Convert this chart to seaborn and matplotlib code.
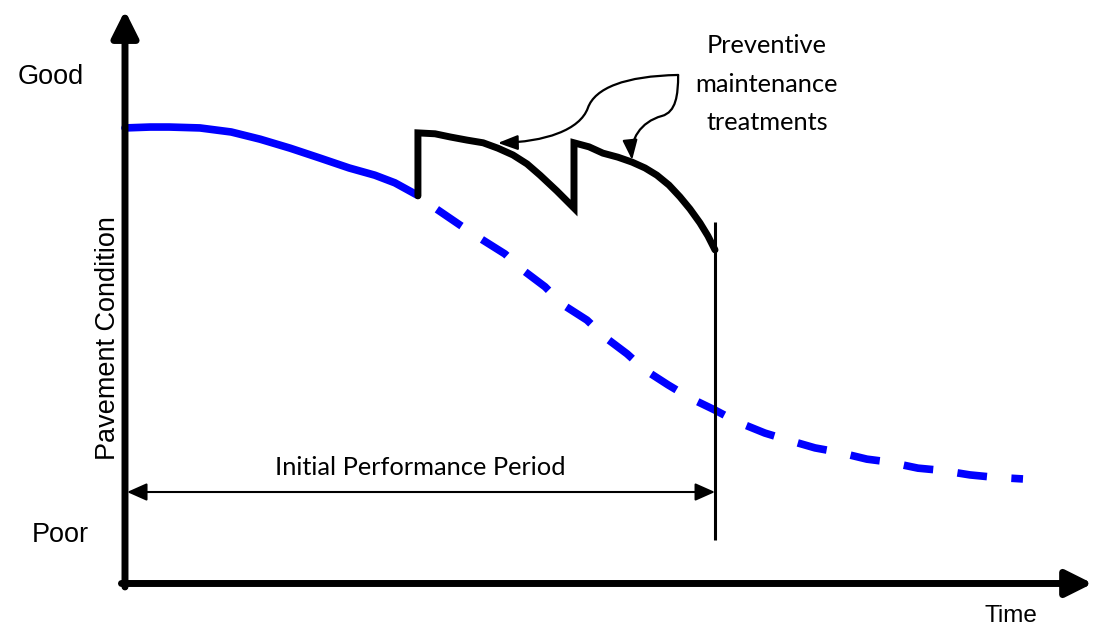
import pandas as pd
import matplotlib.pyplot as plt
import seaborn as sns
from matplotlib.path import Path
from matplotlib.patches import FancyArrowPatch

# time in years, condition index (100 = new pavement)
initial_time = [0, 0.85, 1.5, 2.54, 3.6, 4.58, 5.6, 6.61, 7.6, 8.47, 9.15, 9.9]
initial_cond = [100.9, 101.1, 101.1, 100.9, 100.0, 98.4, 96.4, 94.2, 92.0, 90.4, 88.7, 86.0]

no_pm_time = [9.9, 10.51, 11.36, 12.03, 12.88, 13.49, 14.24, 14.85, 15.66, 16.27,
              17.02, 17.63, 18.41, 19.15, 20.0, 20.75, 21.69, 22.44, 23.39, 24.14,
              25.15, 25.86, 26.88, 27.69, 28.64, 29.42, 30.44]
no_pm_cond = [86.0, 83.1, 79.3, 76.4, 72.9, 69.3, 65.6, 61.6, 58.2, 54.4,
              50.7, 47.1, 43.8, 40.9, 38.2, 35.6, 33.1, 31.6, 29.8, 28.9,
              27.3, 26.7, 25.3, 24.8, 23.8, 23.3, 22.9]

pm_time = [9.93, 9.93, 10.51, 11.02, 11.59, 12.14, 12.64, 13.15, 13.63, 14.07, 14.64, 15.22,
           15.22, 15.73, 16.20, 16.71, 17.19, 17.63, 18.03, 18.44, 18.81, 19.15, 19.49,
           19.76, 20.0]
pm_cond = [85.8, 99.8, 99.6, 98.9, 98.2, 97.6, 96.4, 94.9, 92.9, 90.4, 86.9, 83.1,
           97.6, 96.7, 95.3, 94.4, 93.3, 92.0, 90.4, 88.2, 85.6, 82.9, 79.8,
           76.9, 73.8]

period_end = 20.0
callout_text = ['Preventive', 'maintenance', 'treatments']

sns.set_style('white')
plt.rcParams['font.family'] = ['Liberation Sans', 'DejaVu Sans']
plt.rcParams['text.color'] = 'black'

fig = plt.figure(figsize=(10.97, 6.28), dpi=100)
ax = fig.add_axes([0, 0, 1, 1])
ax.set_xlim(-4.237, 32.949)
ax.set_ylim(-10.22, 129.33)
ax.axis('off')

initial = pd.DataFrame({'time': initial_time, 'cond': initial_cond})
no_pm = pd.DataFrame({'time': no_pm_time, 'cond': no_pm_cond})
pm = pd.DataFrame({'time': pm_time, 'cond': pm_cond})

sns.lineplot(data=initial, x='time', y='cond', estimator=None, sort=False,
             color='#0000FF', lw=5.5, solid_joinstyle='round', ax=ax)
sns.lineplot(data=no_pm, x='time', y='cond', estimator=None, sort=False,
             color='#0000FF', lw=5.5, linestyle=(3.9, (3.9, 3.2)), ax=ax)
sns.lineplot(data=pm, x='time', y='cond', estimator=None, sort=False,
             color='black', lw=5, solid_joinstyle='miter', ax=ax)

# axes as thick arrows
axis_arrow = dict(arrowstyle='-|>,head_length=0.4,head_width=0.2', lw=5,
                  color='black', mutation_scale=40, shrinkA=0, shrinkB=0)
ax.annotate('', xy=(0, 127.0), xytext=(0, -1.1), arrowprops=axis_arrow)
ax.annotate('', xy=(32.8, -0.33), xytext=(-0.12, -0.33), arrowprops=axis_arrow)

# end of the initial performance period
ax.vlines(period_end, 9.3, 80, color='black', lw=2.2)
ax.annotate('', xy=(period_end, 20), xytext=(0.07, 20),
            arrowprops=dict(arrowstyle='<|-|>,head_length=0.45,head_width=0.2',
                            lw=1.5, color='black', mutation_scale=27,
                            shrinkA=0, shrinkB=0))
ax.text(10, 23.8, 'Initial Performance Period', ha='center', va='baseline',
        fontsize=18.3, family=['Lato', 'DejaVu Sans'])

# callout to the treatments
head = '-|>,head_length=0.4,head_width=0.15'
left_branch = Path([(18.75, 112.67), (16.95, 112.44), (15.93, 109.78), (15.69, 105.33),
                    (15.42, 100.44), (14.24, 97.78), (12.64, 97.56)],
                   [Path.MOVETO] + [Path.CURVE4] * 6)
right_branch = Path([(18.75, 112.67), (18.75, 108.22), (18.68, 104.44), (18.20, 103.56),
                     (17.46, 102.22), (17.12, 98.22), (17.19, 93.78)],
                    [Path.MOVETO] + [Path.CURVE4] * 6)
for branch in [left_branch, right_branch]:
    ax.add_patch(FancyArrowPatch(path=branch, arrowstyle=head, lw=1.6,
                                 color='black', mutation_scale=30))

for i, line in enumerate(callout_text):
    ax.text(21.76, 117.5 - 8.55 * i, line, ha='center', va='baseline',
            fontsize=18.3, family=['Lato', 'DejaVu Sans'])

ax.text(-2.51, 110.7, 'Good', ha='center', va='baseline', fontsize=19.5)
ax.text(-2.2, 8.96, 'Poor', ha='center', va='baseline', fontsize=19.5)
ax.text(30.03, -8.9, 'Time', ha='center', va='baseline', fontsize=17.5)
ax.text(-0.34, 54.2, 'Pavement Condition', rotation=90, rotation_mode='anchor',
        ha='center', va='baseline', fontsize=19.5)

fig.savefig('out.png', dpi=100)
